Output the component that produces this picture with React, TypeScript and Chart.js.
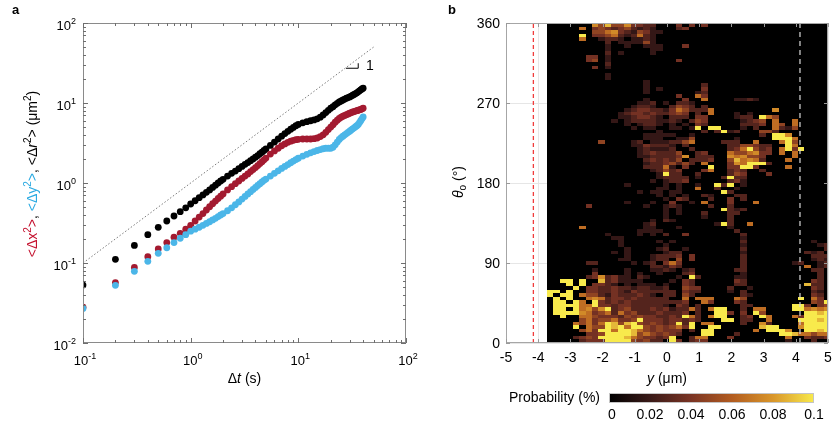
import React, { useEffect, useRef } from "react";
import { Chart, registerables } from "chart.js";

Chart.register(...registerables);

const FONT = '"Liberation Sans", Arial, Helvetica, sans-serif';

// ---------- Panel a : mean squared displacement ----------
const lagTimes = [
  0.1, 0.2, 0.3, 0.4, 0.5, 0.6, 0.7, 0.8, 0.9, 1.0, 1.1, 1.2, 1.3, 1.4, 1.5, 1.6, 1.7, 1.8, 1.9, 2.0,
  2.2, 2.4, 2.6, 2.8, 3.0, 3.2, 3.4, 3.6, 3.8, 4.0, 4.2, 4.4, 4.6, 4.8, 5.0,
  5.5, 6, 6.5, 7, 7.5, 8, 8.5, 9, 9.5, 10,
  11, 12, 13, 14, 15, 16, 17, 18, 19, 20, 21, 22, 23, 24, 25, 26, 27, 28, 29, 30,
  31, 32, 33, 34, 35, 36, 37, 38, 39, 40,
];
const msdR = [
  0.053, 0.111, 0.166, 0.226, 0.279, 0.335, 0.387, 0.438, 0.49, 0.546, 0.6, 0.655, 0.71, 0.765, 0.82, 0.88, 0.94, 1.0, 1.06, 1.11,
  1.22, 1.32, 1.41, 1.51, 1.61, 1.71, 1.8, 1.9, 2.0, 2.1, 2.2, 2.32, 2.43, 2.55, 2.66,
  2.95, 3.25, 3.55, 3.85, 4.15, 4.42, 4.7, 4.95, 5.2, 5.4,
  5.65, 5.85, 6.0, 6.15, 6.35, 6.65, 7.1, 7.6, 8.1, 8.6, 9.0, 9.5, 9.9, 10.3, 10.6, 10.9, 11.2, 11.5, 11.7, 11.9,
  12.2, 12.5, 12.8, 13.1, 13.4, 13.8, 14.2, 14.6, 15.0, 15.3,
];
const msdX = [
  0.028, 0.057, 0.088, 0.12, 0.15, 0.18, 0.21, 0.235, 0.264, 0.296, 0.335, 0.375, 0.415, 0.46, 0.505, 0.55, 0.595, 0.64, 0.685, 0.73,
  0.82, 0.9, 0.98, 1.06, 1.14, 1.22, 1.3, 1.39, 1.47, 1.56, 1.65, 1.75, 1.85, 1.95, 2.05,
  2.3, 2.52, 2.72, 2.92, 3.08, 3.22, 3.33, 3.42, 3.48, 3.52,
  3.55, 3.55, 3.55, 3.58, 3.65, 3.8, 4.0, 4.3, 4.65, 5.0, 5.35, 5.75, 6.1, 6.4, 6.65, 6.85, 7.0, 7.15, 7.3, 7.45,
  7.6, 7.72, 7.82, 7.92, 8.02, 8.12, 8.22, 8.32, 8.45, 8.6,
];
const msdY = [
  0.027, 0.0526, 0.0787, 0.105, 0.132, 0.155, 0.18, 0.204, 0.226, 0.25, 0.265, 0.28, 0.296, 0.312, 0.328, 0.345, 0.362, 0.38, 0.398, 0.415,
  0.45, 0.49, 0.535, 0.58, 0.63, 0.68, 0.73, 0.78, 0.83, 0.88, 0.93, 0.98, 1.03, 1.08, 1.12,
  1.22, 1.32, 1.42, 1.52, 1.61, 1.7, 1.79, 1.88, 1.96, 2.04,
  2.17, 2.28, 2.38, 2.47, 2.55, 2.62, 2.68, 2.72, 2.72, 2.72, 2.8, 3.0, 3.25, 3.5, 3.7, 3.85, 4.0, 4.15, 4.3, 4.45,
  4.6, 4.75, 4.9, 5.05, 5.2, 5.4, 5.7, 6.0, 6.35, 6.7,
];
const guideT = [0.1, 50];
const guideV = [0.1, 50];
const slopeMarkT = [27.7, 36, 36];
const slopeMarkV = [27.2, 27.2, 31.4];
const slopeLabel = { t: 42.5, v: 28.5, text: "1" };
const logXExponents = [-1, 0, 1, 2];
const logYExponents = [-2, -1, 0, 1, 2];

// ---------- Panel b : probability heat map ----------
const posTicks = [-5, -4, -3, -2, -1, 0, 1, 2, 3, 4, 5];
const angleTicks = [0, 90, 180, 270, 360];
const wallLeft = -4.15;
const wallRight = 4.13;
const heatStart = -3.73; // µm, left edge of first column
const heatBinWidth = 0.2; // µm
const heatBinAngle = 4; // degrees
const heatCols = 44;
// probability (%) for each intensity level used in heatRows
const levelValues = [0, 0.008, 0.018, 0.028, 0.038, 0.048, 0.066, 0.076, 0.088, 0.1];
const probMax = 0.1;
const colorbarTicks = [0, 0.02, 0.04, 0.06, 0.08, 0.1];
const colorbarLabels = ["0", "0.02", "0.04", "0.06", "0.08", "0.1"];
// one string per 4° row, from 360° (top) down to 0°; "column:level"
const heatRows = [
  "7:7 8:5 9:8 10:5 11:5 12:7 13:4 14:4 15:3 16:3 20:4 22:4 24:4",
  "5:6 7:4 8:5 9:4 10:3 11:4 12:5 13:3 14:2 15:3 16:2 20:3 21:4",
  "7:5 8:5 9:6 10:7 11:4 12:3 13:2 14:5 15:4 16:2 17:2",
  "5:9 7:4 8:4 9:5 10:6 11:3 12:2 13:3 14:6 15:3 16:2",
  "5:6 8:2 9:3 10:3 11:2 13:2 14:2 15:3 16:2",
  "9:3 11:2 12:2 13:2 14:2 15:5 16:2",
  "9:2 12:2 15:2 16:2 17:2 21:4",
  "9:2 16:2 17:2",
  "9:3 11:2 16:2",
  "6:4 7:4 9:2",
  "6:4 7:5 9:2 20:4",
  "9:3",
  "7:4 9:2",
  "",
  "9:2",
  "9:2",
  "15:2",
  "15:2 24:3",
  "15:2 17:2 24:4",
  "15:2 23:2 24:3",
  "20:4 23:6 24:4",
  "15:2 21:4 24:6 29:2 30:2 31:3 32:2",
  "14:2 15:2 16:3 18:2 20:3 21:3 22:2",
  "13:2 14:3 15:3 16:2 19:3 20:5 21:4 22:3 24:3",
  "12:2 13:3 14:4 15:4 16:3 17:3 18:2 19:4 20:6 21:5 22:3 23:3 24:3 25:6 35:7",
  "11:2 12:3 13:4 14:4 15:3 16:4 17:3 18:3 19:4 20:5 21:4 23:3 25:6 29:2 31:2",
  "11:2 12:2 13:3 14:4 15:4 16:3 17:2 19:3 20:3 21:3 23:4 24:4 29:2 30:3 31:3 33:9 34:6 35:5",
  "10:2 12:2 13:3 14:3 15:3 16:3 17:2 18:2 19:3 20:2 22:3 23:5 24:4 30:2 31:3 32:4 33:5 35:6 38:6",
  "12:2 14:2 15:3 16:3 17:2 19:2 21:2 23:4 24:3 30:3 31:3 32:3 33:4 35:6 36:5 38:6",
  "13:2 15:2 16:2 19:2 20:2 22:2 23:9 25:9 26:9 30:2 32:3 35:6 36:3 37:2 38:5",
  "17:2 24:3 26:3 27:9 28:2 29:3 33:5 34:5 35:3",
  "15:2 16:2 17:2 18:2 19:2 22:2 33:3 35:9 36:9 37:7",
  "15:2 16:2 17:2 20:2 21:2 22:5 29:2 35:9 36:9 37:9 38:6",
  "8:5 13:2 14:3 16:2 17:2 18:2 19:3 20:3 21:5 22:6 27:3 28:3 29:3 32:6 36:6 37:9 38:5",
  "13:2 14:2 15:4 16:3 17:3 18:3 19:2 21:3 28:3 29:3 30:5 31:5 32:4 33:3 34:3 37:9 38:6",
  "14:2 15:3 16:2 17:2 18:2 19:3 22:3 28:3 29:4 30:6 31:9 32:5 33:3 34:4 36:6 37:9 38:4 39:9",
  "14:2 15:3 16:4 17:3 18:3 19:3 20:5 23:3 24:4 28:6 29:5 30:5 31:6 32:7 33:4 34:4 36:6 38:6",
  "14:2 15:2 16:3 17:3 18:3 19:3 20:4 21:7 23:3 24:3 25:3 28:7 29:6 30:7 31:5 32:5 33:4 38:6",
  "15:3 16:4 17:3 18:4 19:3 20:5 22:3 23:3 24:3 25:4 28:5 29:8 30:6 31:7 32:6 33:3 37:6",
  "15:2 16:3 17:3 18:4 19:5 20:3 21:5 22:3 24:6 28:4 29:7 30:6 31:9 32:9 33:9 34:3",
  "15:3 16:3 17:3 18:6 19:2 21:4 25:9 28:4 29:4 30:9 31:9 32:4 37:6",
  "16:2 17:3 18:5 19:3 20:4 24:4 25:6 28:3 29:4 30:3 33:3",
  "17:2 18:9 19:3 20:3 23:3 28:3 29:5 30:4 34:4",
  "17:2 18:3 19:3 20:3 21:3 23:2 27:3 28:9 29:3 30:3",
  "16:2 18:2 19:3 20:3 21:4 28:3 29:4 30:2",
  "12:2 18:2 20:2 23:2 26:9 27:3 28:9 30:2",
  "17:2 18:2 20:2 23:6 26:3 29:2",
  "14:2 16:2 17:2 19:2 20:2 27:9 28:3",
  "17:2 19:2 21:2 24:3 25:2 29:3 30:3",
  "18:2 20:4 21:3 25:3 28:4 30:3",
  "12:2 16:2 19:4 22:2 24:6 28:4 32:6",
  "6:4 15:2 18:2 19:3 20:2 25:3 28:3",
  "18:2 20:2 27:9 28:3 29:2 30:3",
  "18:2 20:2 24:3 28:3 29:3",
  "18:2 24:2 28:3",
  "16:2 18:3 19:2 28:3",
  "15:2 16:3 26:2 27:9 28:3 31:6",
  "5:6 15:2 16:2 20:2 28:2",
  "14:2 15:2 16:2 17:2 29:3",
  "9:2 14:2 16:2 18:3 21:4 30:3",
  "10:2 11:2 30:2",
  "11:2 17:2 19:2 30:3 41:2",
  "11:2 18:2 30:2 42:2 43:3",
  "12:2 17:2 18:3 21:2 30:3 43:3",
  "10:2 12:2 18:2 19:3 20:3 30:2 40:3 41:2 42:3",
  "12:2 16:2 17:3 18:3 19:3 20:4 22:4 30:3 41:3 42:3 43:3",
  "11:2 12:2 16:2 17:3 18:3 20:5 22:4 30:3 41:2 42:3 43:2",
  "6:3 7:3 13:2 15:2 16:3 18:4 19:6 20:4 30:3 38:2 39:3 42:2 43:3",
  "16:3 17:3 18:2 19:4 20:3 30:3 40:6 42:2 43:3",
  "7:2 12:2 16:2 17:2 18:3 19:2 21:2 22:3 29:3 30:3 41:3 42:3",
  "7:4 12:2 14:2 17:2 21:3 22:4 30:2 42:3",
  "6:3 7:4 8:7 9:3 10:4 11:2 12:2 14:3 15:2 20:2 22:9 23:3 29:2 30:2 42:3",
  "2:9 3:9 5:9 8:8 9:3 10:4 11:2 12:2 13:2 14:2 19:2 21:4 22:3 29:4 30:3 41:4 42:3",
  "3:9 5:9 7:4 8:4 9:3 10:2 12:2 14:2 15:2 16:2 18:2 21:4 22:3 29:3 30:3 40:8 41:3 42:3",
  "4:9 6:4 7:4 8:3 9:3 10:4 11:3 12:3 13:2 14:3 15:3 16:2 17:2 18:3 21:5 22:4 23:4 28:3 31:2 41:4 42:3",
  "0:9 1:9 3:9 6:4 7:4 8:3 9:3 10:4 11:3 12:2 13:4 14:3 15:3 16:3 17:3 18:3 19:3 21:4 22:3 23:3 28:2 30:3 41:3 42:2",
  "0:9 2:9 3:9 5:6 6:5 7:5 8:3 9:2 10:4 11:3 12:3 13:3 14:4 15:3 16:2 18:3 19:3 21:5 22:3 30:3 31:2 41:4 42:3",
  "1:9 3:9 6:6 7:7 8:6 9:3 10:4 11:4 12:3 13:4 14:3 15:3 16:3 17:3 18:3 21:6 23:6 24:6 25:6 29:6 30:5 39:9 41:6 42:4",
  "1:9 2:9 4:9 5:6 7:9 8:4 9:3 10:4 11:3 12:4 13:3 14:3 15:3 16:3 17:3 18:3 19:3 20:3 21:4 24:6 25:4 29:4 30:3 41:5 42:4 43:9",
  "1:9 2:9 3:9 4:9 5:6 6:6 7:9 8:4 9:4 10:3 11:4 12:4 13:3 14:3 15:3 16:3 17:3 18:2 20:4 21:3 23:3 30:3 31:3 38:9 39:9 40:4 42:4 43:5",
  "1:9 2:9 4:9 5:6 6:7 7:5 8:7 9:9 10:3 11:4 12:5 13:3 14:3 15:3 16:4 17:3 18:4 19:2 20:3 21:3 22:6 23:3 25:6 26:9 27:9 30:3 32:6 33:6 38:9 39:9 40:6 41:7 42:6 43:7",
  "1:9 2:9 3:9 4:9 5:7 6:6 7:4 8:5 9:6 10:3 11:6 12:4 13:5 14:3 15:3 16:3 17:4 18:3 19:3 20:3 21:4 23:3 26:9 27:9 28:4 30:4 32:9 33:5 40:9 41:9 42:8 43:9",
  "2:9 5:6 6:6 7:5 8:4 9:4 10:4 11:3 12:5 13:4 14:5 15:4 16:4 17:3 18:3 19:4 20:3 21:9 22:6 23:3 25:6 26:9 27:9 30:3 31:4 33:9 34:6 38:6 39:4 40:9 41:9 42:9 43:9",
  "5:5 6:6 7:4 8:5 9:5 10:6 11:4 12:4 13:5 14:9 15:4 16:4 17:4 18:3 19:4 20:4 21:3 22:4 23:3 27:9 28:9 30:3 31:3 34:6 39:9 40:9 41:9 42:8 43:9",
  "4:6 5:5 6:6 7:4 8:6 9:9 10:8 11:5 12:8 13:9 14:5 15:4 16:5 17:4 18:3 19:4 20:9 21:3 22:9 24:6 25:6 30:3 33:7 34:3 39:6 40:9 41:9 42:9 43:9",
  "4:9 6:6 7:5 8:5 9:9 10:8 11:9 12:6 13:9 14:9 15:5 16:4 17:5 18:4 19:5 20:6 21:4 22:9 25:9 26:9 33:8 34:9 35:9 39:7 40:9 41:9 42:9 43:9",
  "5:5 6:6 7:4 8:9 9:9 10:6 11:9 12:9 13:8 14:6 15:5 16:4 17:5 18:4 19:4 20:4 22:3 24:9 25:9 32:6 34:9 35:9 36:9 37:7 40:9 41:9 42:8 43:9",
  "6:4 7:4 8:5 9:9 10:9 11:9 12:9 13:8 14:5 15:6 16:5 17:4 18:5 19:4 20:3 24:9 25:9 29:3 36:9 37:9 38:8 39:6 40:6 41:5 42:6 43:6",
  "4:3 5:4 6:5 7:4 8:9 9:9 10:9 11:9 12:8 13:6 14:5 15:4 16:4 17:3 18:4 19:9 22:3 23:6 24:6 28:4 37:6 40:4 41:3 42:3 43:4",
  "5:3 6:4 7:4 8:4 9:9 10:9 11:9 12:9 13:5 14:4 15:5 16:3 17:3 19:9 20:4 22:3 23:4 24:4 37:2 41:3",
];

// ---------- helpers ----------
const cmapStops: [number, number[]][] = [
  [0, [0, 0, 0]],
  [0.2, [58, 26, 24]],
  [0.4, [122, 52, 36]],
  [0.6, [178, 92, 32]],
  [0.8, [217, 150, 42]],
  [1, [248, 234, 76]],
];
function cmap(f: number): string {
  const v = Math.max(0, Math.min(1, f));
  for (let i = 1; i < cmapStops.length; i++) {
    const [p1, c1] = cmapStops[i];
    const [p0, c0] = cmapStops[i - 1];
    if (v <= p1) {
      const k = (v - p0) / (p1 - p0);
      const c = c0.map((a, j) => Math.round(a + (c1[j] - a) * k));
      return `rgb(${c[0]},${c[1]},${c[2]})`;
    }
  }
  return "rgb(248,234,76)";
}

type Seg = { t: string; c?: string; it?: boolean; sup?: boolean; sub?: boolean };
function drawRich(ctx: CanvasRenderingContext2D, segs: Seg[], cx: number, cy: number, size: number) {
  const fontFor = (s: Seg) =>
    `${s.it ? "italic " : ""}${s.sup || s.sub ? Math.round(size * 0.68) : size}px ${FONT}`;
  let total = 0;
  const widths = segs.map((s) => {
    ctx.font = fontFor(s);
    const w = ctx.measureText(s.t).width;
    total += w;
    return w;
  });
  let x = cx - total / 2;
  const base = cy + size * 0.36;
  ctx.textAlign = "left";
  ctx.textBaseline = "alphabetic";
  segs.forEach((s, i) => {
    ctx.font = fontFor(s);
    ctx.fillStyle = s.c || "#000";
    const y = s.sup ? base - size * 0.42 : s.sub ? base + size * 0.22 : base;
    ctx.fillText(s.t, x, y);
    x += widths[i];
  });
}

function drawPow(ctx: CanvasRenderingContext2D, exp: number, x: number, baseY: number, align: "center" | "right", size: number) {
  const base = "10";
  const e = String(exp);
  ctx.font = `${size}px ${FONT}`;
  const wb = ctx.measureText(base).width;
  ctx.font = `${Math.round(size * 0.68)}px ${FONT}`;
  const we = ctx.measureText(e).width;
  const total = wb + we;
  const x0 = align === "center" ? x - total / 2 : x - total;
  ctx.textAlign = "left";
  ctx.textBaseline = "alphabetic";
  ctx.fillStyle = "#000";
  ctx.font = `${size}px ${FONT}`;
  ctx.fillText(base, x0, baseY);
  ctx.font = `${Math.round(size * 0.68)}px ${FONT}`;
  ctx.fillText(e, x0 + wb, baseY - size * 0.45);
}

const RED = "#a31a30";
const BLUE = "#4bb6e8";
const RED_TEXT = "#c4122f";
const BLUE_TEXT = "#2aaae2";

const leftPlugin = {
  id: "leftDecor",
  afterDraw(chart: any) {
    const ctx: CanvasRenderingContext2D = chart.ctx;
    const { left, right, top, bottom } = chart.chartArea;
    const xs = chart.scales.x;
    const ys = chart.scales.y;
    ctx.save();
    // frame
    ctx.strokeStyle = "#8a8a8a";
    ctx.lineWidth = 1;
    ctx.strokeRect(left + 0.5, top + 0.5, right - left - 1, bottom - top - 1);
    // ticks inside
    ctx.strokeStyle = "#6e6e6e";
    ctx.beginPath();
    const xMinE = logXExponents[0];
    const xMaxE = logXExponents[logXExponents.length - 1];
    for (let e = xMinE; e <= xMaxE; e++) {
      for (let k = 1; k <= 9; k++) {
        const v = k * Math.pow(10, e);
        if (v > Math.pow(10, xMaxE) * 1.0001) continue;
        const px = Math.round(xs.getPixelForValue(v)) + 0.5;
        const len = k === 1 ? 5 : 3;
        ctx.moveTo(px, bottom);
        ctx.lineTo(px, bottom - len);
        ctx.moveTo(px, top);
        ctx.lineTo(px, top + len);
      }
    }
    const yMinE = logYExponents[0];
    const yMaxE = logYExponents[logYExponents.length - 1];
    for (let e = yMinE; e <= yMaxE; e++) {
      for (let k = 1; k <= 9; k++) {
        const v = k * Math.pow(10, e);
        if (v > Math.pow(10, yMaxE) * 1.0001) continue;
        const py = Math.round(ys.getPixelForValue(v)) + 0.5;
        const len = k === 1 ? 5 : 3;
        ctx.moveTo(left, py);
        ctx.lineTo(left + len, py);
        ctx.moveTo(right, py);
        ctx.lineTo(right - len, py);
      }
    }
    ctx.stroke();
    // tick labels
    logXExponents.forEach((e) => {
      drawPow(ctx, e, xs.getPixelForValue(Math.pow(10, e)) + 2, bottom + 22, "center", 13);
    });
    logYExponents.forEach((e) => {
      drawPow(ctx, e, left - 7, ys.getPixelForValue(Math.pow(10, e)) + 6.5, "right", 13);
    });
    // slope label
    ctx.font = `14px ${FONT}`;
    ctx.fillStyle = "#000";
    ctx.textAlign = "left";
    ctx.textBaseline = "middle";
    ctx.fillText(slopeLabel.text, xs.getPixelForValue(slopeLabel.t), ys.getPixelForValue(slopeLabel.v));
    // x title
    drawRich(ctx, [{ t: "Δ" }, { t: "t", it: true }, { t: " (s)" }], (left + right) / 2, bottom + 35, 14);
    // y title
    ctx.save();
    ctx.translate(32, 174);
    ctx.rotate(-Math.PI / 2);
    drawRich(
      ctx,
      [
        { t: "<Δx", c: RED_TEXT },
        { t: "2", c: RED_TEXT, sup: true },
        { t: ">", c: RED_TEXT },
        { t: ", " },
        { t: "<Δy", c: BLUE_TEXT },
        { t: "2", c: BLUE_TEXT, sup: true },
        { t: ">", c: BLUE_TEXT },
        { t: ", <Δ" },
        { t: "r", it: true },
        { t: "2", sup: true },
        { t: "> (μm" },
        { t: "2", sup: true },
        { t: ")" },
      ],
      0,
      0,
      14
    );
    ctx.restore();
    // panel letter
    ctx.font = `bold 13px ${FONT}`;
    ctx.fillStyle = "#000";
    ctx.textAlign = "left";
    ctx.textBaseline = "alphabetic";
    ctx.fillText("a", 12, 14);
    ctx.restore();
  },
};

function parseRow(s: string): [number, number][] {
  if (!s.trim()) return [];
  return s
    .trim()
    .split(/\s+/)
    .map((p) => {
      const [c, l] = p.split(":").map(Number);
      return [c, l] as [number, number];
    });
}

const rightPlugin = {
  id: "rightDecor",
  beforeDatasetsDraw(chart: any) {
    const ctx: CanvasRenderingContext2D = chart.ctx;
    const ca = chart.chartArea;
    const xs = chart.scales.x;
    const ys = chart.scales.y;
    ctx.save();
    ctx.beginPath();
    ctx.rect(ca.left, ca.top, ca.right - ca.left, ca.bottom - ca.top);
    ctx.clip();
    const bx0 = Math.round(xs.getPixelForValue(heatStart));
    const bx1 = Math.round(xs.getPixelForValue(heatStart + heatBinWidth * heatCols));
    const by0 = Math.round(ys.getPixelForValue(360));
    const by1 = Math.round(ys.getPixelForValue(0));
    ctx.fillStyle = "#000";
    ctx.fillRect(bx0, by0, bx1 - bx0, by1 - by0);
    heatRows.forEach((row, r) => {
      const thHi = 360 - r * heatBinAngle;
      const thLo = thHi - heatBinAngle;
      const y0 = Math.round(ys.getPixelForValue(thHi));
      const y1 = Math.round(ys.getPixelForValue(thLo));
      parseRow(row).forEach(([c, lvl]) => {
        if (lvl <= 0) return;
        const x0 = Math.round(xs.getPixelForValue(heatStart + c * heatBinWidth));
        const x1 = Math.round(xs.getPixelForValue(heatStart + (c + 1) * heatBinWidth));
        ctx.fillStyle = cmap(levelValues[lvl] / probMax);
        ctx.fillRect(x0, y0, x1 - x0, y1 - y0);
      });
    });
    ctx.restore();
  },
  afterDraw(chart: any) {
    const ctx: CanvasRenderingContext2D = chart.ctx;
    const { left, right, top, bottom } = chart.chartArea;
    const xs = chart.scales.x;
    const ys = chart.scales.y;
    ctx.save();
    // frame
    ctx.strokeStyle = "#a6a6a6";
    ctx.lineWidth = 1;
    ctx.strokeRect(left + 0.5, top + 0.5, right - left - 1, bottom - top - 1);
    // ticks
    ctx.strokeStyle = "#9a9a9a";
    ctx.beginPath();
    posTicks.forEach((v) => {
      const px = Math.round(xs.getPixelForValue(v)) + 0.5;
      ctx.moveTo(px, bottom);
      ctx.lineTo(px, bottom - 4);
      ctx.moveTo(px, top);
      ctx.lineTo(px, top + 4);
    });
    angleTicks.forEach((v) => {
      const py = Math.round(ys.getPixelForValue(v)) + 0.5;
      ctx.moveTo(left, py);
      ctx.lineTo(left + 4, py);
      ctx.moveTo(right, py);
      ctx.lineTo(right - 4, py);
    });
    ctx.stroke();
    // tick labels
    ctx.fillStyle = "#000";
    ctx.font = `14px ${FONT}`;
    ctx.textBaseline = "middle";
    ctx.textAlign = "center";
    posTicks.forEach((v) => {
      ctx.fillText(String(v), xs.getPixelForValue(v), bottom + 15);
    });
    ctx.textAlign = "right";
    angleTicks.forEach((v) => {
      ctx.fillText(String(v), left - 6, ys.getPixelForValue(v) + 1);
    });
    // titles
    drawRich(ctx, [{ t: "y", it: true }, { t: " (μm)" }], (left + right) / 2, bottom + 35, 14);
    ctx.save();
    ctx.translate(28, 182);
    ctx.rotate(-Math.PI / 2);
    drawRich(ctx, [{ t: "θ", it: true }, { t: "o", sub: true }, { t: " (°)" }], 0, 0, 14);
    ctx.restore();
    // colorbar
    const cbL = 179;
    const cbR = 384;
    const cbT = 393;
    const cbH = 10;
    const grad = ctx.createLinearGradient(cbL, 0, cbR, 0);
    cmapStops.forEach(([p, c]) => grad.addColorStop(p, `rgb(${c[0]},${c[1]},${c[2]})`));
    ctx.fillStyle = grad;
    ctx.fillRect(cbL, cbT, cbR - cbL, cbH);
    ctx.strokeStyle = "#c4c4c4";
    ctx.strokeRect(cbL + 0.5, cbT + 0.5, cbR - cbL - 1, cbH - 1);
    ctx.fillStyle = "#000";
    ctx.font = `14px ${FONT}`;
    ctx.textAlign = "center";
    ctx.textBaseline = "middle";
    colorbarTicks.forEach((v, i) => {
      const px = cbL + ((cbR - cbL) * v) / probMax;
      ctx.fillText(colorbarLabels[i], i === 0 ? px + 3 : px, 415);
    });
    ctx.textAlign = "right";
    ctx.fillText("Probability (%)", 170, 398);
    // panel letter
    ctx.font = `bold 13px ${FONT}`;
    ctx.textAlign = "left";
    ctx.textBaseline = "alphabetic";
    ctx.fillText("b", 18, 14);
    ctx.restore();
  },
};

export default function App() {
  const leftRef = useRef<HTMLCanvasElement>(null);
  const rightRef = useRef<HTMLCanvasElement>(null);

  useEffect(() => {
    const pts = (vals: number[]) => lagTimes.map((t, i) => ({ x: t, y: vals[i] }));
    const dot = (label: string, vals: number[], color: string) => ({
      label,
      data: pts(vals),
      showLine: false,
      backgroundColor: color,
      borderColor: color,
      pointRadius: 3.4,
      pointBorderWidth: 0,
      pointHoverRadius: 0,
      borderWidth: 0,
    });
    const left = new Chart(leftRef.current!, {
      type: "scatter",
      data: {
        datasets: [
          dot("<Δy²>", msdY, BLUE),
          dot("<Δx²>", msdX, RED),
          dot("<Δr²>", msdR, "#000000"),
          {
            label: "slope 1",
            data: guideT.map((t, i) => ({ x: t, y: guideV[i] })),
            showLine: true,
            borderColor: "#7a7a7a",
            borderWidth: 1,
            borderDash: [1.5, 2],
            pointRadius: 0,
          },
          {
            label: "slope mark",
            data: slopeMarkT.map((t, i) => ({ x: t, y: slopeMarkV[i] })),
            showLine: true,
            borderColor: "#000",
            borderWidth: 1,
            pointRadius: 0,
          },
        ],
      } as any,
      options: {
        animation: false,
        responsive: false,
        events: [],
        layout: { padding: { top: 23, right: 24, left: 0, bottom: 0 } },
        plugins: { legend: { display: false }, tooltip: { enabled: false } },
        scales: {
          x: {
            type: "logarithmic",
            min: 0.1,
            max: 100,
            ticks: { display: false },
            grid: { display: false },
            border: { display: false },
            afterFit: (s: any) => {
              s.height = 88;
            },
          },
          y: {
            type: "logarithmic",
            min: 0.01,
            max: 100,
            ticks: { display: false },
            grid: { display: false },
            border: { display: false },
            afterFit: (s: any) => {
              s.width = 83;
            },
          },
        },
      } as any,
      plugins: [leftPlugin],
    });

    const right = new Chart(rightRef.current!, {
      type: "scatter",
      data: {
        datasets: [
          {
            label: "left wall",
            data: [
              { x: wallLeft, y: 0 },
              { x: wallLeft, y: 360 },
            ],
            showLine: true,
            borderColor: "#f03c3c",
            borderWidth: 1.3,
            borderDash: [4, 3],
            pointRadius: 0,
          },
          {
            label: "right wall",
            data: [
              { x: wallRight, y: 0 },
              { x: wallRight, y: 360 },
            ],
            showLine: true,
            borderColor: "#d8d8d8",
            borderWidth: 1.2,
            borderDash: [5, 4],
            pointRadius: 0,
          },
        ],
      } as any,
      options: {
        animation: false,
        responsive: false,
        events: [],
        layout: { padding: { top: 23, right: 6, left: 0, bottom: 0 } },
        plugins: { legend: { display: false }, tooltip: { enabled: false } },
        scales: {
          x: {
            type: "linear",
            min: posTicks[0],
            max: posTicks[posTicks.length - 1],
            ticks: { display: false, stepSize: 1 },
            grid: { color: "#e6e6e6", drawTicks: false },
            border: { display: false },
            afterFit: (s: any) => {
              s.height = 88;
            },
          },
          y: {
            type: "linear",
            min: angleTicks[0],
            max: angleTicks[angleTicks.length - 1],
            ticks: { display: false, stepSize: 90 },
            grid: { color: "#e6e6e6", drawTicks: false },
            border: { display: false },
            afterFit: (s: any) => {
              s.width = 76;
            },
          },
        },
      } as any,
      plugins: [rightPlugin],
    });

    return () => {
      left.destroy();
      right.destroy();
    };
  }, []);

  return (
    <div style={{ position: "absolute", left: 0, top: 0, width: 834, height: 431, background: "#fff" }}>
      <canvas ref={leftRef} width={430} height={431} style={{ position: "absolute", left: 0, top: 0, width: 430, height: 431 }} />
      <canvas ref={rightRef} width={404} height={431} style={{ position: "absolute", left: 430, top: 0, width: 404, height: 431 }} />
    </div>
  );
}
